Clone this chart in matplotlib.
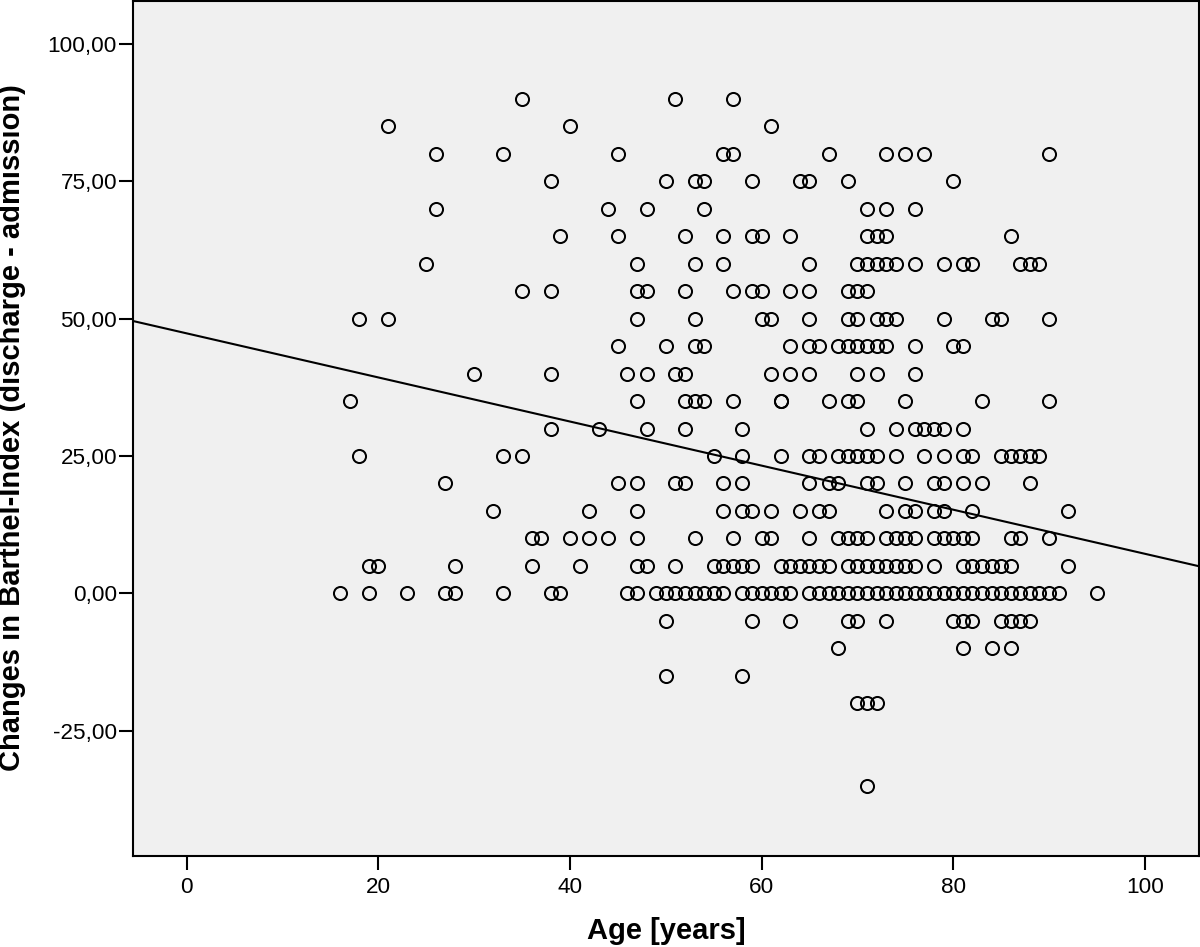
#!/usr/bin/env python3

import matplotlib
matplotlib.use("Agg")
import matplotlib.pyplot as plt

plt.rcParams['font.family'] = ['Liberation Sans', 'DejaVu Sans']

# ages per barthel-index change
ages_90 = [35, 51, 57]
ages_85 = [21, 40, 61]
ages_80 = [26, 33, 45, 56, 57, 67, 73, 75, 77, 90]
ages_75 = [38, 50, 53, 54, 59, 64, 65, 69, 80]
ages_70 = [26, 44, 48, 54, 71, 73, 76]
ages_65 = [39, 45, 52, 56, 59, 60, 63, 71, 72, 73, 86]
ages_60 = [25, 47, 53, 56, 65, 70, 71, 72, 73, 74, 76, 79, 81, 82, 87, 88, 89]
ages_55 = [35, 38, 47, 48, 52, 57, 59, 60, 63, 65, 69, 70, 71]
ages_50 = [18, 21, 47, 53, 60, 61, 65, 69, 70, 72, 73, 74, 79, 84, 85, 90]
ages_45 = [45, 50, 53, 54, 63, 65, 66, 68, 69, 70, 71, 72, 73, 76, 80, 81]
ages_40 = [30, 38, 46, 48, 51, 52, 61, 63, 65, 70, 72, 76]
ages_35 = [17, 47, 52, 53, 54, 57, 62, 62, 67, 69, 70, 75, 83, 90]
ages_30 = [38, 43, 48, 52, 58, 71, 74, 76, 77, 78, 79, 81]
ages_25 = [18, 33, 35, 55, 58, 62, 65, 66, 68, 69, 70, 71, 72, 74, 77, 79, 81, 82,
           85, 86, 87, 88, 89]
ages_20 = [27, 45, 47, 51, 52, 56, 58, 65, 67, 68, 71, 72, 75, 78, 79, 81, 83, 88]
ages_15 = [32, 42, 47, 56, 58, 59, 61, 64, 66, 67, 73, 75, 76, 78, 79, 82, 92]
ages_10 = [36, 37, 40, 42, 44, 47, 53, 57, 60, 61, 65, 68, 69, 70, 71, 73, 74, 75,
           76, 78, 79, 80, 81, 82, 86, 87, 90]
ages_5 = [19, 20, 28, 36, 41, 47, 48, 51, 55, 56, 57, 58, 59, 62, 63, 64, 65, 66, 67,
          69, 70, 71, 72, 73, 74, 75, 76, 78, 81, 82, 83, 84, 85, 86, 92]
ages_0 = [16, 19, 23, 27, 28, 33, 38, 39, 46, 47, 49, 50, 51, 52, 53, 54, 55, 56,
          58, 59, 60, 61, 62, 63, 65, 66, 67, 68, 69, 70, 71, 72, 73, 74, 75, 76,
          77, 78, 79, 80, 81, 82, 83, 84, 85, 86, 87, 88, 89, 90, 91, 95]
ages_m5 = [50, 59, 63, 69, 70, 73, 80, 81, 82, 85, 86, 87, 88]
ages_m10 = [68, 81, 84, 86]
ages_m15 = [50, 58]
ages_m20 = [70, 71, 72]
ages_m35 = [71]

changes = [90, 85, 80, 75, 70, 65, 60, 55, 50, 45, 40, 35, 30, 25, 20, 15, 10, 5, 0,
           -5, -10, -15, -20, -35]
ages = [ages_90, ages_85, ages_80, ages_75, ages_70, ages_65, ages_60, ages_55,
        ages_50, ages_45, ages_40, ages_35, ages_30, ages_25, ages_20, ages_15,
        ages_10, ages_5, ages_0, ages_m5, ages_m10, ages_m15, ages_m20, ages_m35]

# regression line
fit_x = [-5.6, 105.65]
fit_y = [49.55, 4.95]

x_ticks = [0, 20, 40, 60, 80, 100]
y_ticks = [-25, 0, 25, 50, 75, 100]
y_labels = ["-25,00", "0,00", "25,00", "50,00", "75,00", "100,00"]

fig = plt.figure(figsize=(12, 9.47), dpi=100)
ax = fig.add_axes([133 / 1200, 91 / 947, 1066 / 1200, 855 / 947], facecolor="#f0f0f0")

for change, group in zip(changes, ages):
    ax.plot(group, [change] * len(group), linestyle="none", marker="o", ms=9.4,
            mfc="none", mec="black", mew=1.45, clip_on=False)

ax.plot(fit_x, fit_y, color="black", linewidth=1.5)

ax.set_xlim(-5.6, 105.65)
ax.set_ylim(-47.75, 107.75)
ax.set_xticks(x_ticks)
ax.set_yticks(y_ticks)
ax.set_yticklabels(y_labels)
ax.tick_params(length=10, width=1.5, labelsize=16.2, colors="black")
ax.tick_params(axis="y", pad=1.5)
ax.tick_params(axis="x", pad=5)
for spine in ax.spines.values():
    spine.set_linewidth(1.5)

fig.text(666 / 1200, 1 - 931 / 947, "Age [years]", fontsize=21, fontweight="bold",
         ha="center", va="center")
fig.text(12 / 1200, 1 - 428 / 947, "Changes in Barthel-Index (discharge - admission)",
         fontsize=21, fontweight="bold", rotation=90, ha="center", va="center")

fig.savefig("out.png", dpi=100)
